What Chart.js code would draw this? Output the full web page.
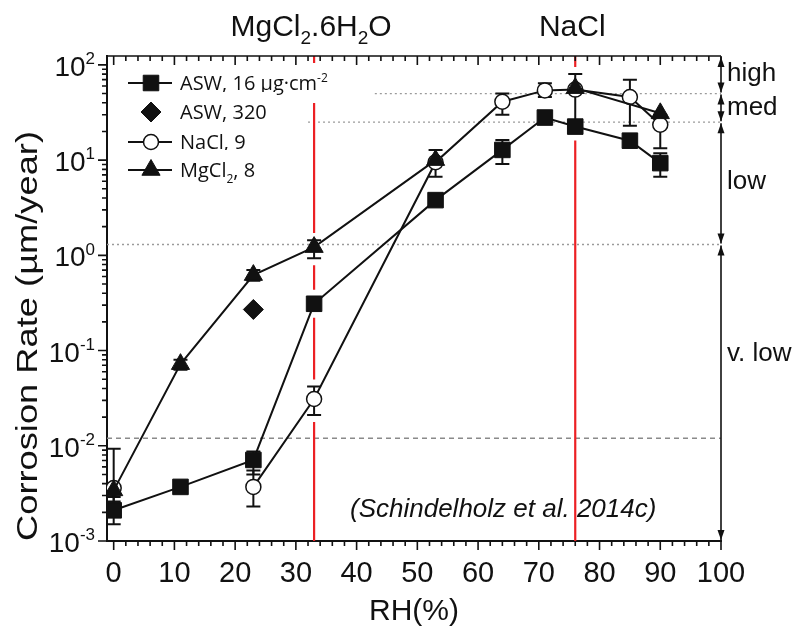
<!DOCTYPE html>
<html>
<head>
<meta charset="utf-8">
<script src="https://cdn.jsdelivr.net/npm/chart.js@4.4.1/dist/chart.umd.min.js"></script>
<style>
  html, body { margin: 0; padding: 0; background: #fff; }
  #wrap { width: 808px; height: 631px; position: relative; }
</style>
</head>
<body>
<div id="wrap"><canvas id="corrosionChart"></canvas></div>
<script>
// values: RH (%) and corrosion rate (µm/year)
const aswRH = [0, 11, 23, 33, 53, 64, 71, 76, 85, 90]
const aswRate = [0.0021, 0.0037, 0.0071, 0.31, 3.8, 12.8, 28, 22.5, 16, 9.3]
const aswLow = [0.0015, null, 0.005, null, null, 9.1, null, null, null, 6.7]
const aswHigh = [0.0029, null, 0.0087, null, null, 16.3, null, null, null, 11.8]

const asw320RH = [23]
const asw320Rate = [0.27]

// the 0 % point is not joined to the rest of the series
const naclRH = [0, 11, 23, 33, 53, 64, 71, 76, 85, 90]
const naclRate = [0.0036, null, 0.0037, 0.031, 9.5, 41, 54, 55, 46, 23.5]
const naclLow = [0.0026, null, 0.0023, 0.021, 6.7, 30, 46, null, 23, 13.3]
const naclHigh = [0.0093, null, 0.0055, 0.042, 12.8, 50, 64, null, 70, 30]

const mgRH = [0, 11, 23, 33, 53, 64, 76, 90]
const mgRate = [0.0034, 0.072, 0.62, 1.22, 10, null, 57, 31]
const mgLow = [null, 0.063, 0.54, 0.93, null, null, 25, null]
const mgHigh = [null, 0.08, 0.7, 1.44, null, null, 80, null]

const xTickLabels = [0, 10, 20, 30, 40, 50, 60, 70, 80, 90, 100]
const yDecades = [-3, -2, -1, 0, 1, 2]

// deliquescence RH of the salts
const deliqRH = [33, 76]
const deliqLabels = [
    [['MgCl', ''], ['2', 'sub'], ['.6H', ''], ['2', 'sub'], ['O', '']],
    [['NaCl', '']]
]

// corrosivity classes
const bandLevels = [50, 25, 1.3]
const bandStartRH = [43, 32, -1.1]
const filmLevel = 0.012
const classNames = ['high', 'med', 'low', 'v. low']
const classLow = [50, 25, 1.3, 0.001]
const classHigh = [124, 50, 25, 1.3]

const legendLabels = [
    [['ASW, 16 µg·cm', ''], ['-2', 'sup']],
    [['ASW, 320', '']],
    [['NaCl, 9', '']],
    [['MgCl', ''], ['2', 'sub'], [', 8', '']]
]

const yTitle = 'Corrosion Rate (µm/year)'

const black = '#111'
const red = '#ec2024'
const fam = '"Liberation Sans", Arial, sans-serif'
const legendFam = '"Open Sans", sans-serif'

const series = [
    { x: aswRH, y: aswRate, lo: aswLow, hi: aswHigh },
    { x: asw320RH, y: asw320Rate },
    { x: naclRH, y: naclRate, lo: naclLow, hi: naclHigh },
    { x: mgRH, y: mgRate, lo: mgLow, hi: mgHigh }
]

const points = (xs, ys) => xs.map((x, i) => ({ x: x, y: ys[i] }))

function drawRuns(ctx, runs, x, y, size, align, family) {
    const f = family || fam
    const fontFor = k => `${k ? Math.round(size * 0.62) : size}px ${f}`
    let w = 0
    for (const [t, k] of runs) {
        ctx.font = fontFor(k)
        w += ctx.measureText(t).width
    }
    let cx = align === 'center' ? x - w / 2 : align === 'right' ? x - w : x
    ctx.textAlign = 'left'
    ctx.textBaseline = 'alphabetic'
    for (const [t, k] of runs) {
        ctx.font = fontFor(k)
        const dy = k === 'sup' ? -size * 0.42 : k === 'sub' ? size * 0.28 : 0
        ctx.fillText(t, cx, y + dy)
        cx += ctx.measureText(t).width
    }
    return w
}

const backdrop = {
    id: 'backdrop',
    beforeDatasetsDraw(chart) {
        const { ctx, chartArea: a, scales: { x, y } } = chart
        ctx.save()

        // class boundaries
        ctx.strokeStyle = '#9a9a9a'
        ctx.lineWidth = 1.3
        ctx.setLineDash([2, 3])
        bandLevels.forEach((lv, i) => {
            const py = y.getPixelForValue(lv)
            ctx.beginPath()
            ctx.moveTo(Math.max(a.left, x.getPixelForValue(bandStartRH[i])), py)
            ctx.lineTo(a.right, py)
            ctx.stroke()
        })
        ctx.setLineDash([5, 4])
        ctx.strokeStyle = '#8a8a8a'
        const fy = y.getPixelForValue(filmLevel)
        ctx.beginPath()
        ctx.moveTo(a.left, fy)
        ctx.lineTo(a.right, fy)
        ctx.stroke()
        ctx.setLineDash([])

        // citation
        ctx.fillStyle = black
        ctx.font = `italic 26px ${fam}`
        ctx.textAlign = 'left'
        ctx.textBaseline = 'alphabetic'
        ctx.fillText('(Schindelholz et al. 2014c)', 350, 517)

        // red DRH lines, broken around the marks sitting on them
        ctx.strokeStyle = red
        ctx.lineWidth = 2.2
        deliqRH.forEach(rh => {
            const px = x.getPixelForValue(rh)
            const gaps = []
            series.forEach(s => s.x.forEach((v, i) => {
                if (v !== rh || s.y[i] == null) return
                const py = y.getPixelForValue(s.y[i])
                gaps.push([py - 14, py + 14])
                if (s.hi && s.hi[i] != null) {
                    gaps.push([y.getPixelForValue(s.hi[i]) - 7, y.getPixelForValue(s.lo[i]) + 7])
                }
            }))
            gaps.sort((p, q) => p[0] - q[0])
            let start = a.top
            ctx.beginPath()
            gaps.forEach(([g0, g1]) => {
                if (g0 > start) {
                    ctx.moveTo(px, start)
                    ctx.lineTo(px, g0)
                }
                start = Math.max(start, g1)
            })
            ctx.moveTo(px, start)
            ctx.lineTo(px, a.bottom)
            ctx.stroke()
        })

        // error bars
        ctx.strokeStyle = black
        ctx.lineWidth = 2
        series.forEach(s => {
            if (!s.hi) return
            s.x.forEach((v, i) => {
                if (s.hi[i] == null) return
                const px = x.getPixelForValue(v)
                const y0 = y.getPixelForValue(s.hi[i])
                const y1 = y.getPixelForValue(s.lo[i])
                ctx.beginPath()
                ctx.moveTo(px, y0); ctx.lineTo(px, y1)
                ctx.moveTo(px - 7, y0); ctx.lineTo(px + 7, y0)
                ctx.moveTo(px - 7, y1); ctx.lineTo(px + 7, y1)
                ctx.stroke()
            })
        })
        ctx.restore()
    }
}

const frame = {
    id: 'frame',
    afterDraw(chart) {
        const { ctx, chartArea: a, scales: { x, y } } = chart
        ctx.save()
        ctx.strokeStyle = black
        ctx.fillStyle = black
        ctx.lineWidth = 1.6

        // top border and x ticks
        ctx.beginPath()
        ctx.moveTo(a.left, a.top)
        ctx.lineTo(a.right, a.top)
        for (let v = 0; v <= 100; v += 2) {
            const px = x.getPixelForValue(v)
            const len = v % 10 === 0 ? 9 : 5
            ctx.moveTo(px, a.bottom); ctx.lineTo(px, a.bottom + len)
            ctx.moveTo(px, a.top); ctx.lineTo(px, a.top + len)
        }
        // y log ticks
        yDecades.forEach(e => {
            for (let m = 1; m <= 9; m++) {
                const v = m * Math.pow(10, e)
                if (v > y.max * 1.0001) break
                const py = y.getPixelForValue(v)
                ctx.moveTo(a.left, py)
                ctx.lineTo(a.left - (m === 1 ? 9 : 5), py)
            }
        })
        ctx.stroke()

        // tick labels
        ctx.font = `29px ${fam}`
        ctx.textAlign = 'center'
        ctx.textBaseline = 'alphabetic'
        xTickLabels.forEach(v => ctx.fillText(String(v), x.getPixelForValue(v), 582))
        yDecades.forEach(e => {
            const py = y.getPixelForValue(Math.pow(10, e))
            drawRuns(ctx, [['10', ''], [String(e), 'sup']], 95, py + 11, 28, 'right')
        })

        // y title, stretched to the length it has in the figure
        ctx.save()
        ctx.font = `30px ${fam}`
        const tw = ctx.measureText(yTitle).width
        ctx.translate(29, 336)
        ctx.rotate(-Math.PI / 2)
        ctx.scale(410 / tw, 1)
        ctx.textAlign = 'center'
        ctx.textBaseline = 'middle'
        ctx.fillText(yTitle, 0, 0)
        ctx.restore()

        // salt labels
        deliqRH.forEach((rh, i) => {
            drawRuns(ctx, deliqLabels[i], x.getPixelForValue(rh) - 3, 36, 30, 'center')
        })

        // class arrows
        const ax = a.right
        ctx.lineWidth = 1.6
        const head = (yy, dir) => {
            ctx.beginPath()
            ctx.moveTo(ax, yy)
            ctx.lineTo(ax - 3.5, yy - dir * 10)
            ctx.lineTo(ax + 3.5, yy - dir * 10)
            ctx.closePath()
            ctx.fill()
        }
        classNames.forEach((name, i) => {
            const top = Math.max(a.top, y.getPixelForValue(classHigh[i]))
            const bot = Math.min(a.bottom, y.getPixelForValue(classLow[i]))
            ctx.beginPath()
            ctx.moveTo(ax, top + 1)
            ctx.lineTo(ax, bot - 1)
            ctx.stroke()
            head(top + 1, -1)
            head(bot - 1, 1)
        })
        ctx.font = `26px ${fam}`
        ctx.textAlign = 'left'
        ctx.textBaseline = 'middle'
        const labelAt = [74, 108, 182, 354]
        classNames.forEach((name, i) => ctx.fillText(name, ax + 6, labelAt[i]))
        ctx.restore()
    },
    afterDatasetsDraw(chart) {
        // legend drawn inside the plot, with the line through each marker
        const { ctx } = chart
        const metas = chart.data.datasets
        const rowY = [83, 112, 142, 170]
        ctx.save()
        metas.forEach((ds, i) => {
            const yy = rowY[i]
            ctx.font = `20px ${legendFam}`
            let w = 0
            legendLabels[i].forEach(([t]) => { w += ctx.measureText(t).width })
            ctx.fillStyle = '#fff'
            ctx.fillRect(176, yy - 20, w + 14, 40)
            ctx.strokeStyle = black
            ctx.lineWidth = 2
            if (ds.showLine) {
                ctx.beginPath()
                ctx.moveTo(128, yy)
                ctx.lineTo(172, yy)
                ctx.stroke()
            }
            ctx.fillStyle = ds.pointBackgroundColor || black
            ctx.strokeStyle = black
            ctx.lineWidth = ds.pointBorderWidth
            Chart.helpers.drawPoint(ctx, {
                pointStyle: ds.pointStyle, radius: ds.pointRadius,
                rotation: 0, borderWidth: ds.pointBorderWidth
            }, 151, yy)
            ctx.fillStyle = black
            drawRuns(ctx, legendLabels[i], 180, yy + 7, 20, 'left', legendFam)
        })
        ctx.restore()
    }
}

const ctx = document.getElementById('corrosionChart').getContext('2d')

new Chart(ctx, {
    type: 'scatter',
    data: {
        datasets: [{
            label: 'ASW, 16 µg·cm⁻²',
            data: points(aswRH, aswRate),
            showLine: true,
            borderColor: black,
            borderWidth: 2,
            pointStyle: 'rect',
            pointRadius: 11,
            pointBackgroundColor: black,
            pointBorderColor: black,
            pointBorderWidth: 1,
            order: 2
        }, {
            label: 'ASW, 320',
            data: points(asw320RH, asw320Rate),
            showLine: false,
            borderColor: black,
            pointStyle: 'rectRot',
            pointRadius: 10,
            pointBackgroundColor: black,
            pointBorderColor: black,
            pointBorderWidth: 1,
            order: 3
        }, {
            label: 'NaCl, 9',
            data: points(naclRH, naclRate),
            showLine: true,
            borderColor: black,
            borderWidth: 2,
            pointStyle: 'circle',
            pointRadius: 7.5,
            pointBackgroundColor: '#fff',
            pointBorderColor: black,
            pointBorderWidth: 1.5,
            order: 1
        }, {
            label: 'MgCl₂, 8',
            data: points(mgRH, mgRate),
            showLine: true,
            borderColor: black,
            borderWidth: 2,
            pointStyle: 'triangle',
            pointRadius: 10.5,
            pointBackgroundColor: black,
            pointBorderColor: black,
            pointBorderWidth: 1,
            order: 0
        }]
    },
    options: {
        responsive: true,
        maintainAspectRatio: false,
        animation: false,
        layout: { padding: { left: 0, right: 87, top: 56, bottom: 0 } },
        scales: {
            x: {
                type: 'linear',
                min: -1.1,
                max: 100,
                grid: { display: false },
                border: { color: black, width: 2 },
                ticks: { display: false },
                title: {
                    display: true,
                    text: 'RH(%)',
                    color: black,
                    font: { family: fam, size: 30 },
                    padding: { top: 0, bottom: 1 }
                },
                afterFit: s => { s.height = 90 }
            },
            y: {
                type: 'logarithmic',
                min: 0.001,
                max: 124,
                grid: { display: false },
                border: { color: black, width: 2 },
                ticks: { display: false },
                afterFit: s => { s.width = 107 }
            }
        },
        plugins: {
            legend: { display: false },
            tooltip: { enabled: false }
        }
    },
    plugins: [backdrop, frame]
});
</script>
</body>
</html>
